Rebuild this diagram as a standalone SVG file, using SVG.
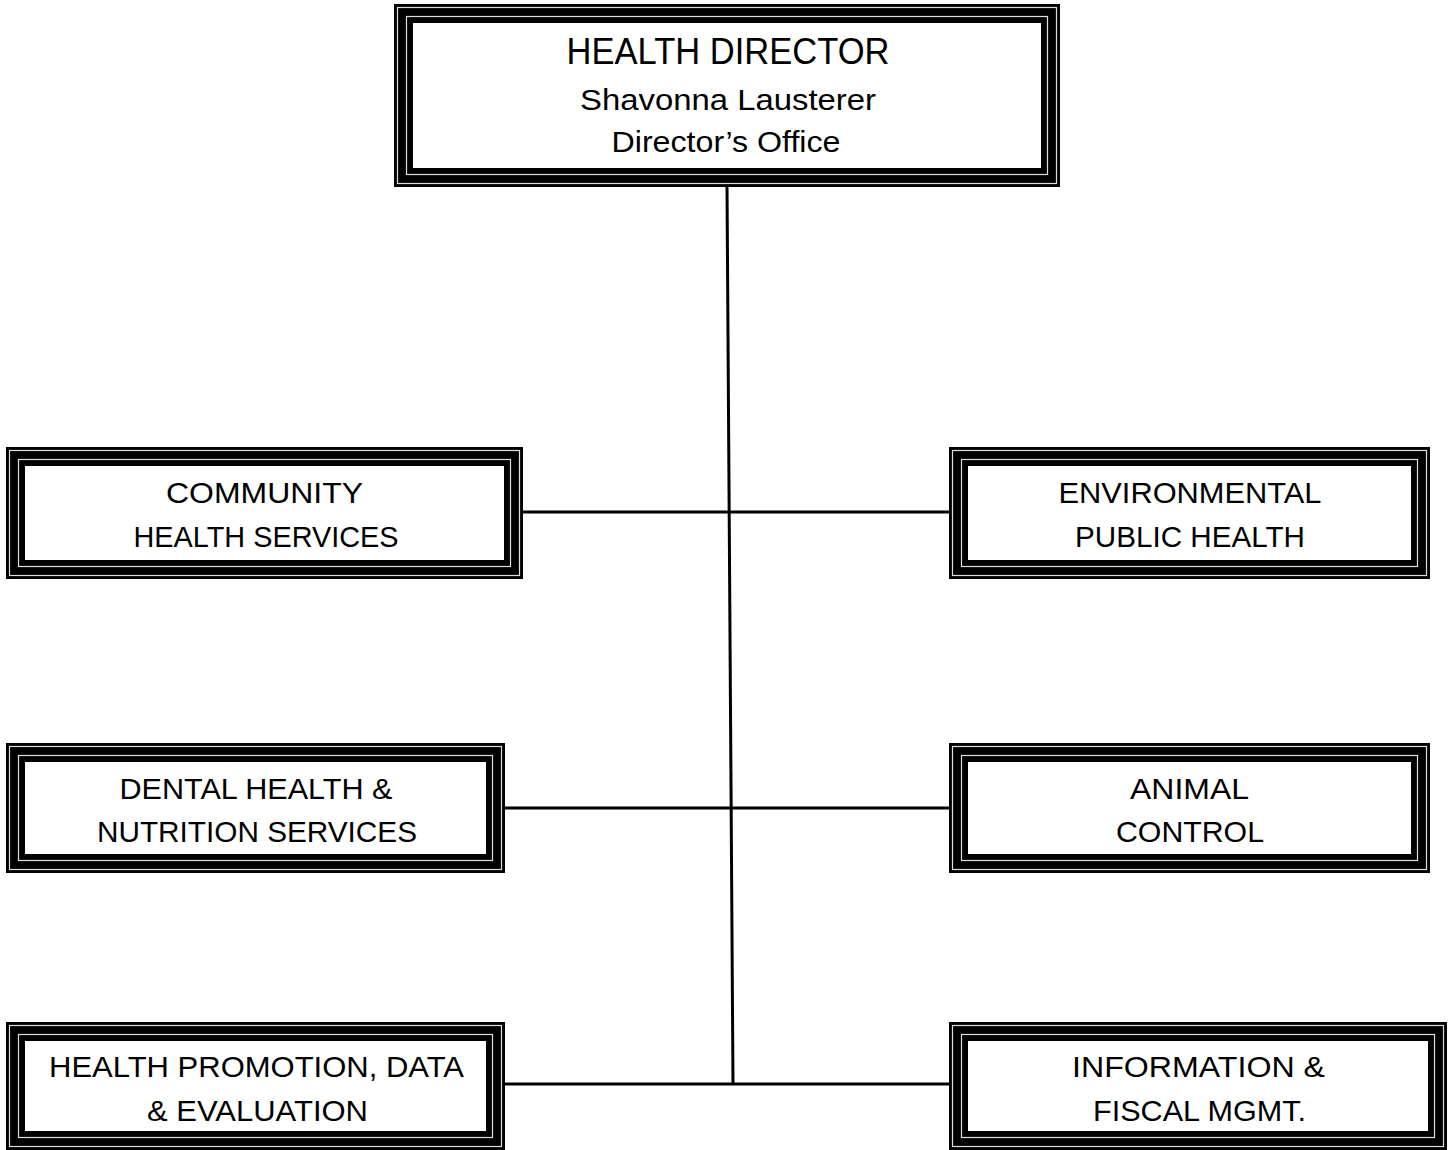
<svg xmlns="http://www.w3.org/2000/svg" width="1452" height="1150" viewBox="0 0 1452 1150">
<style>
.frame{fill:#000}
.gap{fill:none;stroke:#ddd;stroke-width:1.2}
.inner{fill:#fff}
.conn{stroke:#000;stroke-width:3;fill:none}
text{font-family:"Liberation Sans",Arial,sans-serif;fill:#000;text-anchor:middle}
.t1{font-size:36px}
.t2{font-size:29px}
.lbl{font-size:29px}
</style>
<rect width="1452" height="1150" fill="#fff"/>
<g id="connectors">
<line class="conn" x1="727" y1="186" x2="733" y2="1084"/>
<line class="conn" x1="522" y1="512" x2="950" y2="512"/>
<line class="conn" x1="504" y1="808" x2="950" y2="808"/>
<line class="conn" x1="504" y1="1084" x2="950" y2="1084"/>
</g>
<g id="director">
<rect class="frame" x="394" y="4" width="666" height="183"/>
<rect class="gap" x="397.5" y="7.5" width="659" height="176"/>
<rect class="gap" x="406.5" y="16.5" width="641" height="158"/>
<rect class="inner" x="413" y="23" width="628" height="145"/>
<text class="t1" x="728" y="64" textLength="323" lengthAdjust="spacingAndGlyphs">HEALTH DIRECTOR</text>
<text class="t2" x="728" y="110" textLength="296" lengthAdjust="spacingAndGlyphs">Shavonna  Lausterer</text>
<text class="t2" x="726" y="152" textLength="229" lengthAdjust="spacingAndGlyphs">Director’s Office</text>
</g>
<g id="community">
<rect class="frame" x="6" y="447" width="517" height="132"/>
<rect class="gap" x="9.5" y="450.5" width="510" height="125"/>
<rect class="gap" x="18.5" y="459.5" width="492" height="107"/>
<rect class="inner" x="25" y="466" width="479" height="94"/>
<text class="lbl" x="264.5" y="503" textLength="197" lengthAdjust="spacingAndGlyphs">COMMUNITY</text>
<text class="lbl" x="266" y="547" textLength="265" lengthAdjust="spacingAndGlyphs">HEALTH SERVICES</text>
</g>
<g id="environmental">
<rect class="frame" x="949" y="447" width="481" height="132"/>
<rect class="gap" x="952.5" y="450.5" width="474" height="125"/>
<rect class="gap" x="961.5" y="459.5" width="456" height="107"/>
<rect class="inner" x="968" y="466" width="443" height="94"/>
<text class="lbl" x="1190" y="503" textLength="263" lengthAdjust="spacingAndGlyphs">ENVIRONMENTAL</text>
<text class="lbl" x="1190" y="547" textLength="230" lengthAdjust="spacingAndGlyphs">PUBLIC HEALTH</text>
</g>
<g id="dental">
<rect class="frame" x="6" y="743" width="499" height="130"/>
<rect class="gap" x="9.5" y="746.5" width="492" height="123"/>
<rect class="gap" x="18.5" y="755.5" width="474" height="105"/>
<rect class="inner" x="25" y="762" width="461" height="92"/>
<text class="lbl" x="256" y="799" textLength="273" lengthAdjust="spacingAndGlyphs">DENTAL HEALTH &amp;</text>
<text class="lbl" x="257" y="842" textLength="320" lengthAdjust="spacingAndGlyphs">NUTRITION SERVICES</text>
</g>
<g id="animal">
<rect class="frame" x="949" y="743" width="481" height="130"/>
<rect class="gap" x="952.5" y="746.5" width="474" height="123"/>
<rect class="gap" x="961.5" y="755.5" width="456" height="105"/>
<rect class="inner" x="968" y="762" width="443" height="92"/>
<text class="lbl" x="1189.5" y="799" textLength="119" lengthAdjust="spacingAndGlyphs">ANIMAL</text>
<text class="lbl" x="1190" y="842" textLength="148" lengthAdjust="spacingAndGlyphs">CONTROL</text>
</g>
<g id="promotion">
<rect class="frame" x="6" y="1022" width="499" height="128"/>
<rect class="gap" x="9.5" y="1025.5" width="492" height="121"/>
<rect class="gap" x="18.5" y="1034.5" width="474" height="103"/>
<rect class="inner" x="25" y="1041" width="461" height="90"/>
<text class="lbl" x="256.5" y="1077" textLength="415" lengthAdjust="spacingAndGlyphs">HEALTH PROMOTION, DATA</text>
<text class="lbl" x="257.5" y="1121" textLength="221" lengthAdjust="spacingAndGlyphs">&amp; EVALUATION</text>
</g>
<g id="information">
<rect class="frame" x="949" y="1022" width="498" height="128"/>
<rect class="gap" x="952.5" y="1025.5" width="491" height="121"/>
<rect class="gap" x="961.5" y="1034.5" width="473" height="103"/>
<rect class="inner" x="968" y="1041" width="460" height="90"/>
<text class="lbl" x="1198.5" y="1077" textLength="253" lengthAdjust="spacingAndGlyphs">INFORMATION &amp;</text>
<text class="lbl" x="1199.5" y="1121" textLength="213" lengthAdjust="spacingAndGlyphs">FISCAL MGMT.</text>
</g>
</svg>
